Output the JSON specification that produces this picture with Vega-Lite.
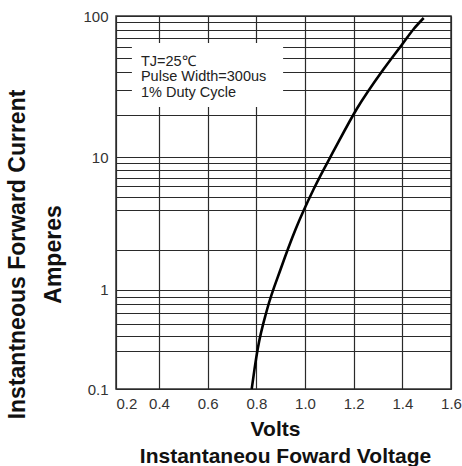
{
  "$schema": "https://vega.github.io/schema/vega-lite/v6.json",
  "autosize": {"type": "none"},
  "width": 335,
  "height": 373,
  "padding": {"left": 116, "top": 16, "right": 11, "bottom": 77},
  "background": "white",
  "config": {"view": {"stroke": "#333", "strokeWidth": 1.5}},
  "title": {"text": "Instantaneou Foward Voltage", "orient": "bottom", "anchor": "middle", "fontSize": 21, "fontWeight": "bold", "font": "Liberation Sans", "color": "#111", "offset": 7, "dx": 2},
  "datasets": {
    "curve": [
      {"v": 0.781, "i": 0.1},
      {"v": 0.7925, "i": 0.207},
      {"v": 0.8056, "i": 0.412},
      {"v": 0.8447, "i": 0.748},
      {"v": 0.9001, "i": 1.428},
      {"v": 0.9618, "i": 2.862},
      {"v": 1.0358, "i": 5.735},
      {"v": 1.1221, "i": 11.4},
      {"v": 1.2125, "i": 21.9},
      {"v": 1.3234, "i": 42.1},
      {"v": 1.3974, "i": 62.3},
      {"v": 1.4467, "i": 80.9},
      {"v": 1.4878, "i": 96.8}
    ],
    "box": [{"v": 0.274, "v2": 0.91, "i": 22.6, "i2": 64.4}],
    "notes": [
      {"v": 0.316, "i": 47.5, "t": "TJ=25℃"},
      {"v": 0.316, "i": 36.8, "t": "Pulse Width=300us"},
      {"v": 0.316, "i": 28.6, "t": "1% Duty Cycle"}
    ]
  },
  "encoding": {
    "x": {
      "field": "v", "type": "quantitative",
      "scale": {"type": "linear", "domain": [0.2, 0.4, 1.6], "range": [0, 43, 335], "nice": false, "zero": false},
      "axis": {
        "values": [0.2, 0.4, 0.6, 0.8, 1.0, 1.2, 1.4, 1.6],
        "format": ".1f",
        "grid": true, "gridColor": "#2a2a2a", "gridWidth": 1.2,
        "ticks": false, "domain": false,
        "labelFontSize": 15, "labelColor": "#333", "labelFont": "Liberation Sans", "labelPadding": 7,
        "labelAlign": {"condition": {"test": "datum.value <= 0.2", "value": "left"}, "value": "center"},
        "title": "Volts", "titleFontSize": 21, "titleFontWeight": "bold", "titleFont": "Liberation Sans", "titleColor": "#111",
        "titleX": 159, "titleY": 46, "titleBaseline": "alphabetic", "titleAlign": "center"
      }
    },
    "y": {
      "field": "i", "type": "quantitative",
      "scale": {"type": "log", "domain": [0.1, 0.4, 1, 10, 100], "range": [373, 335, 273.5, 141, 0], "nice": false, "zero": false},
      "axis": {
        "values": [0.1, 0.4, 0.5, 0.6, 0.7, 0.8, 0.9, 1, 2, 4, 5, 6, 7, 8, 9, 10, 20, 30, 40, 50, 60, 70, 80, 90, 100],
        "labelExpr": "datum.value == 0.1 ? '0.1' : datum.value == 1 ? '1' : datum.value == 10 ? '10' : datum.value == 100 ? '100' : ''",
        "grid": true, "gridColor": "#2a2a2a", "gridWidth": 1.2,
        "ticks": false, "domain": false,
        "labelFontSize": 15, "labelColor": "#333", "labelFont": "Liberation Sans", "labelPadding": 8,
        "title": ["Instantneous Forward Current", "Amperes"],
        "titleFontSize": 23, "titleFontWeight": "bold", "titleFont": "Liberation Sans", "titleColor": "#111",
        "titleLineHeight": 36, "titleAngle": -90, "titleX": -99, "titleY": 238, "titleAlign": "center", "titleBaseline": "middle"
      }
    }
  },
  "layer": [
    {
      "data": {"name": "box"},
      "mark": {"type": "rect", "fill": "white", "stroke": null},
      "encoding": {"x2": {"field": "v2"}, "y2": {"field": "i2"}}
    },
    {
      "data": {"name": "notes"},
      "mark": {"type": "text", "align": "left", "baseline": "middle", "fontSize": 14.5, "font": "Liberation Sans", "color": "#222"},
      "encoding": {"text": {"field": "t"}}
    },
    {
      "data": {"name": "curve"},
      "mark": {"type": "line", "color": "black", "strokeWidth": 2.6, "interpolate": "monotone", "clip": true},
      "encoding": {}
    }
  ]
}
